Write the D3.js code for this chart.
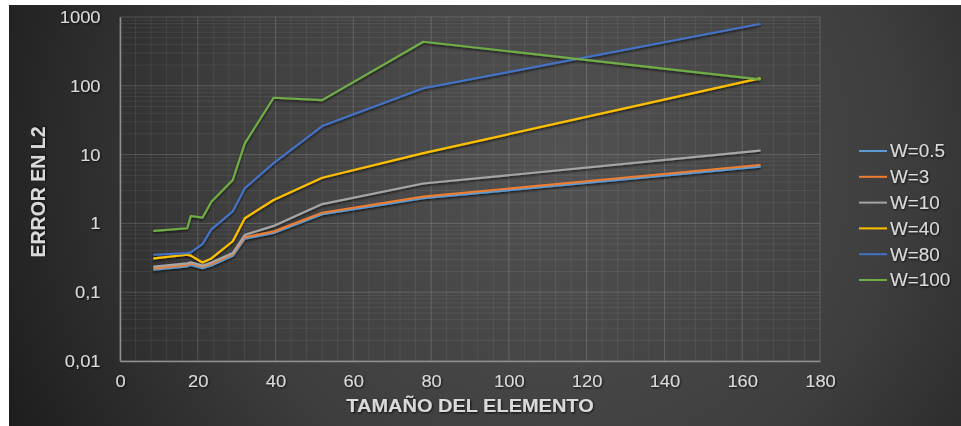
<!DOCTYPE html>
<html>
<head>
<meta charset="utf-8">
<script src="https://cdn.jsdelivr.net/npm/d3@7/dist/d3.min.js"></script>
<style>
  html, body { margin: 0; padding: 0; background: #ffffff; }
  svg { display: block; }
  text { font-family: "Liberation Sans", Arial, sans-serif; }
</style>
</head>
<body>
<svg id="chart" width="961" height="426"></svg>
<script>
// Element size (x) and L2 error per W value
const sizes = [8.8, 17.3, 18.2, 21.2, 23.5, 29, 32.1, 39.5, 52, 78, 164.5];
const w05  = [0.212, 0.238, 0.25, 0.224, 0.245, 0.338, 0.6, 0.725, 1.36, 2.33, 6.7];
const w3   = [0.222, 0.25, 0.262, 0.235, 0.258, 0.355, 0.63, 0.76, 1.43, 2.45, 7.06];
const w10  = [0.235, 0.262, 0.272, 0.243, 0.27, 0.37, 0.68, 0.92, 1.91, 3.8, 11.4];
const w40  = [0.31, 0.35, 0.34, 0.27, 0.31, 0.55, 1.19, 2.19, 4.6, 10.5, 128];
const w80  = [0.35, 0.37, 0.38, 0.5, 0.82, 1.5, 3.24, 7.5, 26, 92, 790];
const w100 = [0.78, 0.85, 1.28, 1.21, 2.07, 4.27, 14.6, 67, 62, 437, 124];

const seriesNames = ["W=0.5", "W=3", "W=10", "W=40", "W=80", "W=100"];
const seriesValues = [w05, w3, w10, w40, w80, w100];
const seriesColors = ["#5b9bd5", "#ed7d31", "#a5a5a5", "#ffc000", "#4472c4", "#70ad47"];

const xTicks = [0, 20, 40, 60, 80, 100, 120, 140, 160, 180];
const yTicks = [0.01, 0.1, 1, 10, 100, 1000];
const yTickLabels = ["0,01", "0,1", "1", "10", "100", "1000"];

const xTitle = "TAMAÑO DEL ELEMENTO";
const yTitle = "ERROR EN L2";

const svg = d3.select("#chart");
const W = 961, H = 426;
const plot = { left: 120, right: 820, top: 17, bottom: 361 };
const stretch = "scale(1.08,1)";
const textColor = "#dadada";

const defs = svg.append("defs");
const bg = defs.append("radialGradient").attr("id", "bg")
  .attr("gradientUnits", "userSpaceOnUse")
  .attr("cx", 560).attr("cy", 160).attr("r", 620);
bg.append("stop").attr("offset", "0%").attr("stop-color", "#525252");
bg.append("stop").attr("offset", "55%").attr("stop-color", "#3e3e3e");
bg.append("stop").attr("offset", "100%").attr("stop-color", "#1c1c1c");

const shadow = defs.append("filter").attr("id", "shadow")
  .attr("x", "-10%").attr("y", "-10%").attr("width", "120%").attr("height", "130%");
shadow.append("feDropShadow").attr("dx", 0).attr("dy", 1.5)
  .attr("stdDeviation", 1.2).attr("flood-color", "#000").attr("flood-opacity", 0.7);

const tshadow = defs.append("filter").attr("id", "tshadow")
  .attr("x", "-10%").attr("y", "-20%").attr("width", "130%").attr("height", "150%");
tshadow.append("feDropShadow").attr("dx", 0.8).attr("dy", 1)
  .attr("stdDeviation", 0.8).attr("flood-color", "#000").attr("flood-opacity", 0.8);

// Dark panel
svg.append("rect").attr("x", 9).attr("y", 5).attr("width", W - 9).attr("height", H - 5)
  .attr("fill", "url(#bg)");

const x = d3.scaleLinear().domain([0, 180]).range([plot.left, plot.right]);
const y = d3.scaleLog().domain([0.01, 1000]).range([plot.bottom, plot.top]);

// Minor grid
const grid = svg.append("g");
const minorX = d3.range(0, 181, 4).filter(v => v % 20 !== 0);
grid.selectAll(".mx").data(minorX).join("line")
  .attr("x1", d => x(d)).attr("x2", d => x(d))
  .attr("y1", plot.top).attr("y2", plot.bottom)
  .attr("stroke", "#ffffff").attr("stroke-opacity", 0.07).attr("stroke-width", 1);
const minorY = [];
[0.01, 0.1, 1, 10, 100].forEach(b => { for (let k = 2; k <= 9; k++) minorY.push(b * k); });
grid.selectAll(".my").data(minorY).join("line")
  .attr("x1", plot.left).attr("x2", plot.right)
  .attr("y1", d => y(d)).attr("y2", d => y(d))
  .attr("stroke", "#ffffff").attr("stroke-opacity", 0.07).attr("stroke-width", 1);

// Major grid
grid.selectAll(".Mx").data(xTicks).join("line")
  .attr("x1", d => x(d)).attr("x2", d => x(d))
  .attr("y1", plot.top).attr("y2", plot.bottom)
  .attr("stroke", "#ffffff").attr("stroke-opacity", 0.17).attr("stroke-width", 1);
grid.selectAll(".My").data(yTicks).join("line")
  .attr("x1", plot.left).attr("x2", plot.right)
  .attr("y1", d => y(d)).attr("y2", d => y(d))
  .attr("stroke", "#ffffff").attr("stroke-opacity", 0.17).attr("stroke-width", 1);

// Axes
const xAxis = svg.append("g").attr("transform", `translate(0,${plot.bottom})`)
  .call(d3.axisBottom(x).tickValues(xTicks).tickSize(0).tickPadding(14).tickFormat(d3.format("d")));
const yAxis = svg.append("g").attr("transform", `translate(${plot.left},0)`)
  .call(d3.axisLeft(y).tickValues(yTicks).tickSize(0).tickPadding(18)
    .tickFormat((d, i) => yTickLabels[i]));

[xAxis, yAxis].forEach(a => {
  a.select(".domain").attr("stroke", "#8f8f8f").attr("stroke-width", 1.5);
  a.selectAll("text")
    .attr("fill", textColor).attr("font-size", 17)
    .attr("font-family", "'Liberation Sans', Arial, sans-serif")
    .attr("filter", "url(#tshadow)")
    .attr("transform", stretch);
});

// Series lines
const line = d3.line().x((d, i) => x(sizes[i])).y(d => y(d));
const lines = svg.append("g").attr("filter", "url(#shadow)");
seriesValues.forEach((vals, s) => {
  lines.append("path").datum(vals)
    .attr("d", line)
    .attr("fill", "none")
    .attr("stroke", seriesColors[s])
    .attr("stroke-width", 2.2)
    .attr("stroke-linejoin", "round")
    .attr("stroke-linecap", "round");
});

// Axis titles
svg.append("text")
  .attr("x", 0).attr("y", 0)
  .attr("transform", `translate(${(plot.left + plot.right) / 2},412) scale(1.08,1)`)
  .attr("text-anchor", "middle")
  .attr("font-size", 18.5).attr("font-weight", "bold")
  .attr("fill", textColor).attr("filter", "url(#tshadow)")
  .text(xTitle);
svg.append("text")
  .attr("transform", "translate(45,192) rotate(-90) scale(1,1.08)")
  .attr("text-anchor", "middle")
  .attr("font-size", 19.5).attr("font-weight", "bold")
  .attr("fill", textColor).attr("filter", "url(#tshadow)")
  .text(yTitle);

// Legend
const legend = svg.append("g").attr("transform", "translate(859,151)");
const item = legend.selectAll("g").data(seriesNames).join("g")
  .attr("transform", (d, i) => `translate(0,${i * 25.8})`);
item.append("line").attr("x1", 0).attr("x2", 28).attr("y1", 0).attr("y2", 0)
  .attr("stroke", (d, i) => seriesColors[i]).attr("stroke-width", 2);
item.append("text")
  .attr("transform", "translate(31,0) scale(1.08,1)")
  .attr("dy", "0.36em")
  .attr("font-size", 17.5)
  .attr("fill", textColor).attr("filter", "url(#tshadow)")
  .text(d => d);
</script>
</body>
</html>
